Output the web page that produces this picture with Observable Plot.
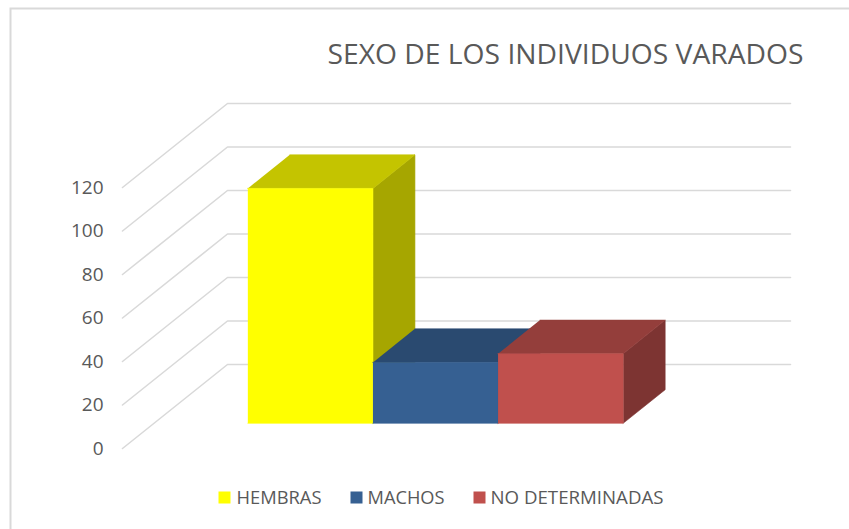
<!DOCTYPE html>
<html>
<head>
<meta charset="utf-8">
<script src="https://cdn.jsdelivr.net/npm/d3@7"></script>
<script src="https://cdn.jsdelivr.net/npm/@observablehq/plot@0.6"></script>
<style>
  html, body { margin: 0; padding: 0; background: #fff; overflow: hidden; }
</style>
</head>
<body>
<div id="chart"></div>
<script>
// ---- data ----
const title = "SEXO DE LOS INDIVIDUOS VARADOS";
const categories = ["HEMBRAS", "MACHOS", "NO DETERMINADAS"];
const values = [108, 28, 32];
const yTicks = [0, 20, 40, 60, 80, 100, 120];

// ---- styles / layout ----
const frontColors = ["#FFFF00", "#366092", "#C0504D"];
const W = 849, H = 529;
const X0 = 122, X1 = 685, Y0 = 448, Y1 = 187;   // front plane range
const yMax = 120;
const DX = 105 / (X1 - X0);                      // depth vector in data units
const DY = 84 / ((Y0 - Y1) / yMax);
const T0 = 0.3, T1 = 0.7;                         // bar depth slab
const gapWidth = 0.5;
const clusterW = 1 / (1 + gapWidth);
const barW = clusterW / categories.length;
const textColor = "#595959";
const gridColor = "#d9d9d9";
const font = "Open Sans";

const shade = (c, k) => { const r = d3.rgb(c); return d3.rgb(r.r * k, r.g * k, r.b * k).formatHex(); };
const px = (u, t) => u + t * DX;
const py = (v, t) => v + t * DY;

// gridlines: left wall diagonal + back wall horizontal
const gridRows = yTicks.flatMap(v => [
  {v, x: px(0, 0), y: py(v, 0)},
  {v, x: px(0, 1), y: py(v, 1)},
  {v, x: px(1, 1), y: py(v, 1)}
]);

// bar faces (painted left to right: side, top, front)
const faceRows = [];
categories.forEach((c, i) => {
  const v = values[i];
  const u0 = 0.5 - clusterW / 2 + i * barW, u1 = u0 + barW;
  const faces = [
    ["side", shade(frontColors[i], 0.65), [[u1, T0, 0], [u1, T1, 0], [u1, T1, v], [u1, T0, v]]],
    ["top", shade(frontColors[i], 0.77), [[u0, T0, v], [u1, T0, v], [u1, T1, v], [u0, T1, v]]],
    ["front", frontColors[i], [[u0, T0, 0], [u1, T0, 0], [u1, T0, v], [u0, T0, v]]]
  ];
  for (const [name, fill, pts] of faces) {
    for (const [u, t, val] of pts) faceRows.push({key: c + "-" + name, fill, x: px(u, t), y: py(val, t)});
  }
});

// legend layout
const legendSqX = [218, 350, 473];
const legendTxtX = [236, 367, 490];
const legendTxtW = [85, 77, 173];

const legendMarks = categories.flatMap((c, i) => [
  Plot.frame({fill: frontColors[i], stroke: "none",
    insetLeft: legendSqX[i], insetRight: W - legendSqX[i] - 12, insetTop: 491, insetBottom: H - 503}),
  Plot.text([c], {frameAnchor: "top-left", lineAnchor: "middle", dx: legendTxtX[i], dy: 497.5, textAnchor: "start",
    fontSize: 19, fill: textColor, fontFamily: font})
]);

const plot = Plot.plot({
  width: W, height: H,
  marginTop: 0, marginRight: 0, marginBottom: 0, marginLeft: 0,
  style: {fontFamily: font, background: "#fff"},
  x: {type: "linear", domain: [0, 1], range: [X0, X1], axis: null},
  y: {type: "linear", domain: [0, yMax], range: [Y0, Y1], axis: null},
  color: {type: "identity"},
  marks: [
    Plot.line(gridRows, {x: "x", y: "y", z: "v", stroke: gridColor, strokeWidth: 1.6}),
    Plot.text(yTicks, {x: () => 0, y: d => d, text: d => String(d), textAnchor: "end", dx: -19,
      fontSize: 19, fill: textColor, fontFamily: font}),
    Plot.line(faceRows, {x: "x", y: "y", z: "key", fill: "fill", stroke: "fill", strokeWidth: 0.6}),
    Plot.text([title], {frameAnchor: "top-left", lineAnchor: "middle", dx: 327, dy: 55, textAnchor: "start",
      fontSize: 27, fill: textColor, fontFamily: font}),
    ...legendMarks,
    Plot.frame({stroke: gridColor, strokeWidth: 2, insetLeft: 10, insetTop: 8, insetRight: -10, insetBottom: -10})
  ]
});

// fit text widths to the reference
const widths = new Map([[title, 476], ...categories.map((c, i) => [c, legendTxtW[i]])]);
plot.querySelectorAll("text").forEach(t => {
  const w = widths.get(t.textContent);
  if (w) { t.setAttribute("textLength", w); t.setAttribute("lengthAdjust", "spacingAndGlyphs"); }
});

document.getElementById("chart").appendChild(plot);
</script>
</body>
</html>
